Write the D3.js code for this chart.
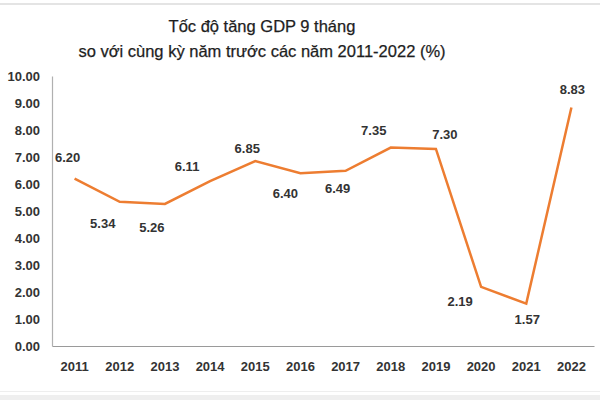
<!DOCTYPE html>
<html>
<head>
<meta charset="utf-8">
<script src="https://cdn.jsdelivr.net/npm/d3@7"></script>
<style>
  body { margin: 0; background: #fff; }
  svg { display: block; font-family: "Liberation Sans", Arial, sans-serif; }
  .tick-label { font-size: 13px; font-weight: bold; fill: #333; }
  .value-label { font-size: 13px; font-weight: bold; fill: #333; }
  .title { font-size: 16.5px; fill: #1e1e1e; stroke: #1e1e1e; stroke-width: 0.25px; }
</style>
</head>
<body>
<svg id="chart"></svg>
<script>
// Chart data.
const years = ["2011", "2012", "2013", "2014", "2015", "2016",
               "2017", "2018", "2019", "2020", "2021", "2022"];
const growth = [6.20, 5.34, 5.26, 6.11, 6.85, 6.40, 6.49, 7.35, 7.30, 2.19, 1.57, 8.83];
const yTicks = [0, 1, 2, 3, 4, 5, 6, 7, 8, 9, 10];
const titleLines = ["Tốc độ tăng GDP 9 tháng",
                    "so với cùng kỳ năm trước các năm 2011-2022 (%)"];

// Where each value label sits relative to its point (dx, dy).
const labelOffsets = [[-7, -21], [-17, 22], [-13, 24], [-23, -15], [-8, -13], [-15, 20],
                      [-8, 18], [-17, -17], [9, -14], [-21, 15], [1, 16], [1, -18]];

const width = 600;
const height = 400;
const margin = { top: 76, bottom: 54, left: 52, right: 6 };

const svg = d3.select("#chart")
  .attr("width", width)
  .attr("height", height);

function translate(x, y) {
  return "translate(" + String(x) + "," + String(y) + ")";
}

// Light grey frame strips from the screenshot.
svg.append("rect").attr("x", 0).attr("y", 3).attr("width", width).attr("height", 2)
  .attr("fill", "#e4e4e4");
svg.append("rect").attr("x", 0).attr("y", 391).attr("width", width).attr("height", 1)
  .attr("fill", "#eeeeee");
svg.append("rect").attr("x", 0).attr("y", 395).attr("width", width).attr("height", 5)
  .attr("fill", "#efefef");

const xScale = d3.scaleBand()
  .domain(years)
  .range([margin.left, width - margin.right]);

const yScale = d3.scaleLinear()
  .domain([0, 10])
  .range([height - margin.bottom, margin.top]);

// Title.
const title = svg.append("text")
  .attr("class", "title")
  .attr("text-anchor", "middle");
title.selectAll("tspan")
  .data(titleLines)
  .enter()
  .append("tspan")
  .attr("x", 262)
  .attr("y", (d, i) => 32 + i * 25)
  .text(d => d);

// Axes.
const xAxis = d3.axisBottom(xScale).tickSize(0).tickPadding(16);
const yAxis = d3.axisLeft(yScale).tickValues(yTicks).tickSize(0).tickPadding(12)
  .tickFormat(d3.format(".2f"));

const gx = svg.append("g")
  .attr("transform", translate(0, height - margin.bottom))
  .call(xAxis);
gx.select(".domain").attr("stroke", "#9a9a9a").attr("stroke-width", 1.2);
gx.selectAll("text").attr("class", "tick-label").attr("font-family", null).attr("font-size", null);

const gy = svg.append("g")
  .attr("transform", translate(margin.left, 0))
  .call(yAxis);
gy.select(".domain").attr("stroke", "#b0b0b0").attr("stroke-width", 1.2);
gy.selectAll("text").attr("class", "tick-label").attr("font-family", null).attr("font-size", null);

// Line.
const line = d3.line()
  .x((d, i) => xScale(years[i]) + xScale.bandwidth() / 2)
  .y(d => yScale(d));

svg.append("path")
  .datum(growth)
  .attr("d", line)
  .attr("fill", "none")
  .attr("stroke", "#ED7D31")
  .attr("stroke-width", 2.5)
  .attr("stroke-linejoin", "miter");

// Value labels.
svg.append("g")
  .selectAll("text")
  .data(growth)
  .enter()
  .append("text")
  .attr("class", "value-label")
  .attr("text-anchor", "middle")
  .attr("dominant-baseline", "central")
  .attr("x", (d, i) => xScale(years[i]) + xScale.bandwidth() / 2 + labelOffsets[i][0])
  .attr("y", (d, i) => yScale(d) + labelOffsets[i][1])
  .text(d => d3.format(".2f")(d));
</script>
</body>
</html>
